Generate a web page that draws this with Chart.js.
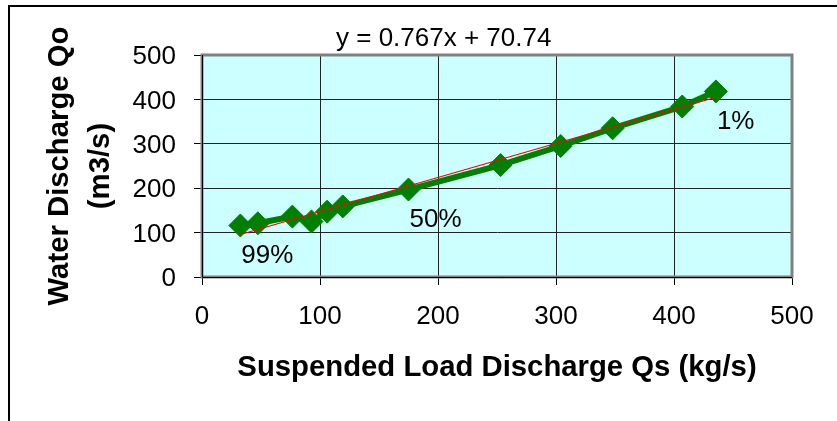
<!DOCTYPE html>
<html>
<head>
<meta charset="utf-8">
<script src="https://cdn.jsdelivr.net/npm/chart.js@4/dist/chart.umd.min.js"></script>
<style>
  html, body { margin: 0; padding: 0; background: #fff; }
</style>
</head>
<body>
<canvas id="myChart" width="837" height="421"></canvas>
<script>
// values
const suspendedLoad = [32.5, 47.3, 76.6, 92.8, 106, 119.3, 175, 253, 304, 348, 407, 435.5];
const waterDischarge = [116, 121, 136, 125, 147, 159, 197, 252, 295, 335, 384, 418];
const pointLabels = ['99%', '', '', '', '', '', '50%', '', '', '', '', '1%'];
const trendSlope = 0.767;
const trendIntercept = 70.74;
const axisTicks = [0, 100, 200, 300, 400, 500];

const FONT = "'Liberation Sans', Arial, sans-serif";

const mainPoints = suspendedLoad.map((x, i) => ({ x: x, y: waterDischarge[i] }));
const xMin = Math.min(...suspendedLoad);
const xMax = Math.max(...suspendedLoad);
const trendPoints = [xMin, xMax].map(x => ({ x: x, y: trendSlope * x + trendIntercept }));

const decorPlugin = {
    id: 'decor',
    beforeDraw(chart) {
        const { ctx, chartArea: a } = chart;
        ctx.save();
        ctx.fillStyle = '#fff';
        ctx.fillRect(0, 0, chart.width, chart.height);
        // outer chart border (only top and left are visible)
        ctx.strokeStyle = '#000';
        ctx.lineWidth = 2;
        ctx.beginPath();
        ctx.moveTo(9, chart.height);
        ctx.lineTo(9, 6);
        ctx.lineTo(chart.width, 6);
        ctx.stroke();
        // plot background
        ctx.fillStyle = '#CCFFFF';
        ctx.fillRect(a.left, a.top, a.right - a.left, a.bottom - a.top);
        ctx.restore();
    },
    beforeDatasetsDraw(chart) {
        const { ctx, chartArea: a } = chart;
        ctx.save();
        ctx.strokeStyle = '#808080';
        ctx.lineWidth = 3;
        ctx.strokeRect(a.left, a.top, a.right - a.left, a.bottom - a.top);
        ctx.strokeStyle = '#000';
        ctx.lineWidth = 1;
        ctx.beginPath();
        ctx.moveTo(a.left + 0.5, a.top);
        ctx.lineTo(a.left + 0.5, a.bottom + 0.5);
        ctx.lineTo(a.right, a.bottom + 0.5);
        ctx.stroke();
        ctx.restore();
    },
    afterDatasetsDraw(chart) {
        const { ctx } = chart;
        ctx.save();
        ctx.fillStyle = '#000';

        // percent labels next to points
        ctx.font = '26px ' + FONT;
        ctx.textAlign = 'left';
        ctx.textBaseline = 'middle';
        const meta = chart.getDatasetMeta(1);
        pointLabels.forEach((lbl, i) => {
            if (!lbl) return;
            const p = meta.data[i];
            ctx.fillText(lbl, p.x + 1, p.y + 30);
        });

        // trendline equation
        const eq = 'y = ' + trendSlope + 'x + ' + trendIntercept;
        ctx.textBaseline = 'alphabetic';
        ctx.fillText(eq, 336, 46);

        // y axis title (two lines, rotated)
        ctx.font = 'bold 29.3px ' + FONT;
        ctx.textAlign = 'center';
        ctx.textBaseline = 'middle';
        ctx.translate(60, 166);
        ctx.rotate(-Math.PI / 2);
        ctx.fillText('Water Discharge Qo', 0, 0);
        ctx.fillText('(m3/s)', 0, 41);
        ctx.restore();
    }
};

const ctx = document.getElementById('myChart');

new Chart(ctx, {
    type: 'scatter',
    data: {
        datasets: [{
            label: 'Linear trend',
            data: trendPoints,
            showLine: true,
            borderColor: '#FF0000',
            borderWidth: 1.2,
            pointRadius: 0,
            order: 0
        }, {
            label: 'Qo vs Qs',
            data: mainPoints,
            showLine: true,
            borderColor: '#008000',
            backgroundColor: '#008000',
            borderWidth: 6,
            pointStyle: 'rectRot',
            pointRadius: 11.5,
            pointBorderWidth: 1,
            pointBorderColor: '#008000',
            pointBackgroundColor: '#008000',
            order: 1
        }]
    },
    options: {
        responsive: false,
        animation: false,
        layout: { padding: { top: 55, right: 45, left: 0, bottom: 0 } },
        plugins: {
            legend: { display: false },
            tooltip: { enabled: false }
        },
        scales: {
            x: {
                type: 'linear',
                min: 0,
                max: 500,
                afterBuildTicks: axis => { axis.ticks = axisTicks.map(v => ({ value: v })); },
                afterFit: axis => { axis.height = 144; },
                grid: { color: '#222', tickColor: '#000', tickLength: 8, lineWidth: 1 },
                border: { display: true, color: '#000' },
                ticks: { color: '#000', padding: 16, font: { family: FONT, size: 26 } },
                title: {
                    display: true,
                    text: 'Suspended Load Discharge Qs (kg/s)',
                    color: '#000',
                    font: { family: FONT, size: 29.3, weight: 'bold' },
                    padding: { top: 0, bottom: 35.5 }
                }
            },
            y: {
                type: 'linear',
                min: 0,
                max: 500,
                afterBuildTicks: axis => { axis.ticks = axisTicks.map(v => ({ value: v })); },
                afterFit: axis => { axis.width = 202; },
                grid: { color: '#222', tickColor: '#000', tickLength: 8, lineWidth: 1 },
                border: { display: true, color: '#000' },
                ticks: { color: '#000', padding: 18, labelOffset: 2, font: { family: FONT, size: 26 } }
            }
        }
    },
    plugins: [decorPlugin]
});
</script>
</body>
</html>
